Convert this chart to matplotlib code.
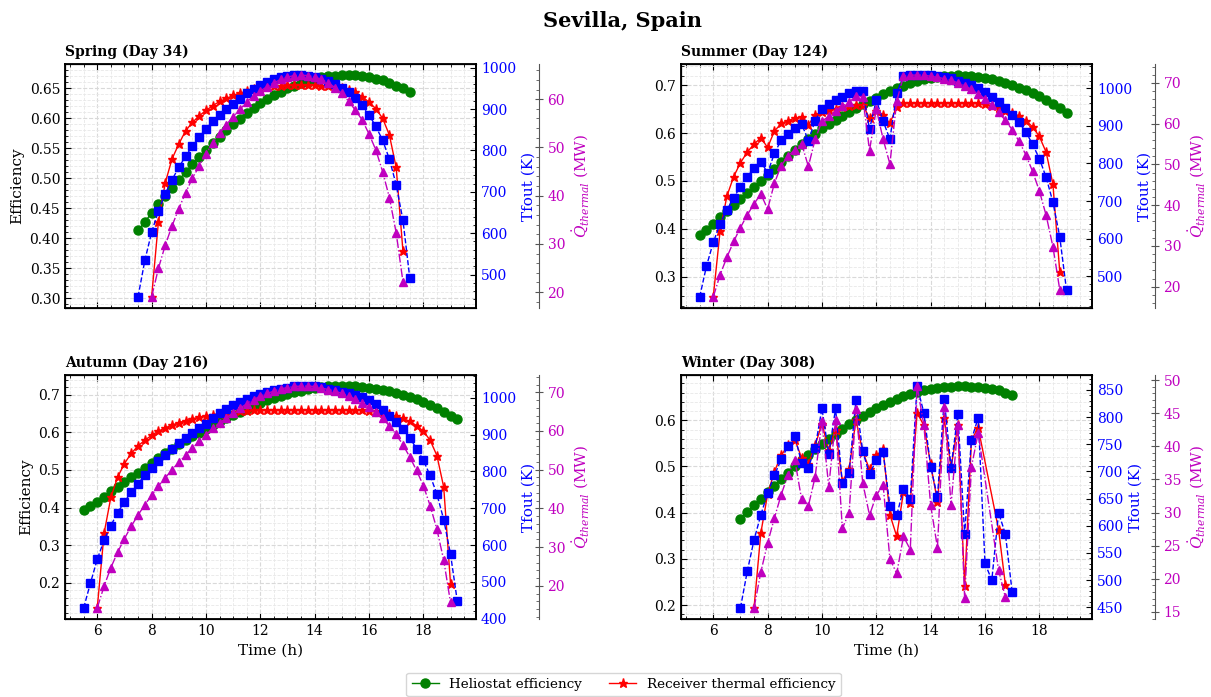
import numpy as np
import matplotlib
matplotlib.use('Agg')
import matplotlib.pyplot as plt
from matplotlib.ticker import AutoMinorLocator, MultipleLocator, FormatStrFormatter
from matplotlib.lines import Line2D

plt.rcParams['font.family'] = ['DejaVu Serif']
plt.rcParams['mathtext.fontset'] = 'dejavuserif'
plt.rcParams['font.size'] = 10

# ---------------- data ----------------
seasons = ["Spring (Day 34)", "Summer (Day 124)", "Autumn (Day 216)", "Winter (Day 308)"]

# Spring
spring_time = np.arange(7.5, 17.5 + 0.01, 0.25)
spring_helio = [0.413, 0.427, 0.442, 0.457, 0.471, 0.484, 0.497, 0.510, 0.523, 0.535,
                0.547, 0.558, 0.569, 0.580, 0.590, 0.599, 0.608, 0.617, 0.625, 0.632,
                0.638, 0.644, 0.650, 0.654, 0.658, 0.661, 0.665, 0.668, 0.670, 0.671,
                0.672, 0.672, 0.672, 0.671, 0.669, 0.666, 0.663, 0.659, 0.654, 0.650, 0.643]
spring_tfout = [446, 534, 602, 654, 695, 729, 759, 786, 810, 832, 852, 870, 886, 900, 913,
                925, 939, 949, 958, 966, 972, 977, 980, 982, 982, 980, 977, 973, 967, 961,
                952, 941, 926, 909, 886, 858, 825, 779, 717, 631, 492]
spring_rtime = np.arange(8.0, 17.25 + 0.01, 0.25)
spring_rec = [0.302, 0.427, 0.492, 0.532, 0.557, 0.579, 0.593, 0.604, 0.613, 0.621,
              0.628, 0.633, 0.638, 0.642, 0.645, 0.648, 0.650, 0.652, 0.653, 0.654,
              0.655, 0.655, 0.655, 0.655, 0.655, 0.654, 0.653, 0.652, 0.650, 0.647,
              0.643, 0.636, 0.627, 0.616, 0.600, 0.572, 0.518, 0.378]
spring_q = [19.0, 24.9, 29.7, 33.7, 37.3, 40.6, 43.6, 46.1, 48.7, 50.9,
            52.9, 54.7, 56.4, 57.9, 59.4, 60.7, 61.7, 62.6, 63.4, 64.1,
            64.6, 64.9, 65.0, 64.9, 64.6, 64.1, 63.4, 62.4, 61.2, 59.6,
            57.7, 55.7, 52.8, 49.5, 45.0, 39.6, 32.3, 22.1]

# Summer
summer_time = np.arange(5.5, 19.0 + 0.01, 0.25)
summer_helio = [0.387, 0.398, 0.411, 0.424, 0.437, 0.449, 0.462, 0.475, 0.487, 0.500,
                0.512, 0.526, 0.539, 0.552, 0.565, 0.577, 0.588, 0.599, 0.611, 0.619,
                0.627, 0.636, 0.645, 0.652, 0.660, 0.667, 0.674, 0.681, 0.688, 0.694,
                0.699, 0.704, 0.708, 0.712, 0.715, 0.717, 0.719, 0.720, 0.721, 0.720,
                0.719, 0.717, 0.715, 0.712, 0.709, 0.705, 0.700, 0.695, 0.690, 0.683,
                0.677, 0.669, 0.661, 0.652, 0.642]
summer_tfout = [445, 527, 590, 639, 676, 709, 738, 765, 787, 805,
                775, 827, 862, 878, 893, 905, 861, 914, 944, 957,
                968, 978, 987, 994, 994, 891, 969, 913, 864, 987,
                1033, 1034, 1035, 1035, 1034, 1032, 1029, 1026, 1020, 1015,
                1009, 1000, 989, 978, 964, 948, 930, 909, 884, 851,
                813, 763, 697, 605, 463]
summer_rtime = np.arange(6.0, 18.75 + 0.01, 0.25)
summer_rec = [0.258, 0.395, 0.468, 0.509, 0.538, 0.560, 0.577, 0.590, 0.570, 0.604,
              0.620, 0.626, 0.631, 0.634, 0.617, 0.638, 0.645, 0.648, 0.651, 0.654,
              0.656, 0.658, 0.659, 0.631, 0.647, 0.638, 0.620, 0.655,
              0.663, 0.663, 0.663, 0.663, 0.663, 0.663, 0.663, 0.663, 0.663, 0.663,
              0.662, 0.662, 0.660, 0.657, 0.652, 0.647, 0.642, 0.636, 0.626, 0.613,
              0.593, 0.560, 0.493, 0.311]
summer_q = [17.5, 22.9, 27.2, 31.1, 34.5, 37.6, 40.3, 42.8, 39.0, 45.4,
            49.7, 52.0, 53.6, 55.1, 49.5, 56.2, 60.6, 61.8, 63.2, 64.3,
            65.3, 66.7, 66.6, 53.4, 63.6, 56.2, 50.1, 65.5,
            71.6, 71.9, 71.9, 71.9, 71.6, 71.4, 71.0, 70.6, 70.0, 69.3,
            68.4, 67.3, 66.1, 64.6, 62.8, 60.8, 58.5, 55.7, 52.4, 48.3,
            43.5, 37.5, 29.8, 19.3]

# Autumn
autumn_time = np.arange(5.5, 19.25 + 0.01, 0.25)
autumn_helio = [0.393, 0.405, 0.416, 0.429, 0.443, 0.455, 0.468, 0.480, 0.493, 0.505,
                0.519, 0.531, 0.544, 0.555, 0.568, 0.579, 0.590, 0.599, 0.609, 0.619,
                0.629, 0.638, 0.647, 0.655, 0.663, 0.671, 0.678, 0.685, 0.691, 0.697,
                0.703, 0.707, 0.711, 0.715, 0.718, 0.720, 0.722, 0.723, 0.723, 0.723,
                0.722, 0.720, 0.719, 0.716, 0.712, 0.709, 0.704, 0.699, 0.694, 0.688,
                0.681, 0.673, 0.664, 0.654, 0.644, 0.635]
autumn_tfout = [429, 497, 561, 613, 653, 688, 717, 744, 767, 789,
                810, 829, 846, 862, 876, 891, 905, 918, 930, 946,
                959, 970, 980, 989, 997, 1005, 1011, 1016, 1021, 1024,
                1028, 1031, 1032, 1032, 1031, 1029, 1025, 1021, 1017, 1014,
                1009, 1003, 994, 982, 967, 952, 935, 914, 891, 862,
                830, 789, 738, 669, 575, 447]
autumn_rtime = np.arange(6.0, 19.0 + 0.01, 0.25)
autumn_rec = [0.133, 0.331, 0.427, 0.481, 0.517, 0.544, 0.564, 0.579, 0.592, 0.603,
              0.612, 0.619, 0.626, 0.631, 0.636, 0.640, 0.644, 0.647, 0.650, 0.652,
              0.654, 0.656, 0.658, 0.659,
              0.660, 0.660, 0.660, 0.660, 0.660, 0.660, 0.660, 0.660, 0.660, 0.660,
              0.660, 0.660, 0.660, 0.660, 0.660,
              0.659, 0.658, 0.656, 0.652, 0.648, 0.643, 0.637, 0.629, 0.618, 0.603,
              0.579, 0.538, 0.454, 0.197]
autumn_q = [14.3, 19.9, 24.7, 28.7, 32.2, 35.4, 38.3, 40.9, 43.4, 45.8,
            47.9, 50.0, 51.9, 53.8, 55.6, 57.3, 59.0, 60.7, 62.1, 63.4,
            64.7, 65.9, 67.0, 68.1, 69.0, 69.7, 70.3, 70.9, 71.2, 71.5,
            71.6, 71.6, 71.5, 71.1, 70.7, 70.3, 69.7, 69.0, 68.2, 67.2,
            66.2, 64.9, 63.3, 61.3, 59.1, 56.4, 53.3, 49.8, 45.9, 40.7,
            34.6, 26.6, 15.7]

# Winter
winter_time = np.arange(7.0, 17.0 + 0.01, 0.25)
winter_helio = [0.387, 0.401, 0.416, 0.430, 0.444, 0.458, 0.473, 0.487, 0.500, 0.513,
                0.525, 0.537, 0.548, 0.560, 0.571, 0.581, 0.591, 0.600, 0.609, 0.618,
                0.626, 0.633, 0.639, 0.646, 0.652, 0.657, 0.661, 0.665, 0.667, 0.670,
                0.672, 0.673, 0.674, 0.674, 0.673, 0.672, 0.670, 0.667, 0.665, 0.660, 0.655]
winter_tfout = [449, 516, 574, 620, 660, 693, 722, 747, 765, 716,
                707, 744, 816, 732, 816, 678, 698, 831, 737, 695,
                721, 735, 637, 619, 668, 650, 857, 808, 709, 653,
                833, 707, 806, 585, 758, 799, 531, 500, 624, 585, 478]
winter_rtime = [7.5, 7.75, 8.0, 8.25, 8.5, 8.75, 9.0, 9.25, 9.5, 9.75,
                10.0, 10.25, 10.5, 10.75, 11.0, 11.25, 11.5, 11.75, 12.0, 12.25,
                12.5, 12.75, 13.0, 13.25, 13.5, 13.75, 14.0, 14.25, 14.5, 14.75,
                15.0, 15.25, 15.5, 15.75, 16.5, 16.75]
winter_rec = [0.194, 0.356, 0.440, 0.489, 0.524, 0.546, 0.558, 0.519, 0.505, 0.546,
              0.593, 0.535, 0.580, 0.467, 0.495, 0.600, 0.532, 0.494, 0.524, 0.537,
              0.396, 0.349, 0.445, 0.422, 0.616, 0.589, 0.505, 0.424, 0.605, 0.497,
              0.589, 0.241, 0.557, 0.584, 0.363, 0.244]
winter_q = [15.6, 21.0, 25.4, 29.2, 32.7, 35.7, 38.0, 32.0, 31.0, 35.4,
            43.9, 33.9, 44.0, 27.6, 30.0, 45.7, 34.5, 29.6, 32.6, 34.2,
            23.0, 20.8, 26.4, 24.4, 49.1, 43.2, 31.1, 24.7, 46.0, 31.1,
            43.2, 17.1, 36.9, 42.0, 21.3, 17.2]

panels = [
    (spring_time, spring_helio, spring_tfout, spring_rtime, spring_rec, spring_q),
    (summer_time, summer_helio, summer_tfout, summer_rtime, summer_rec, summer_q),
    (autumn_time, autumn_helio, autumn_tfout, autumn_rtime, autumn_rec, autumn_q),
    (winter_time, winter_helio, winter_tfout, winter_rtime, winter_rec, winter_q),
]

# tick steps per panel (efficiency, Tfout, Q)
eff_steps = [0.05, 0.1, 0.1, 0.1]
eff_fmts = ['%.2f', '%.1f', '%.1f', '%.1f']
tf_steps = [100, 100, 100, 50]
q_steps = [10, 10, 10, 5]

# ---------------- figure ----------------
W, H = 1211, 697
fig = plt.figure(figsize=(W / 100, H / 100), dpi=100)

lefts = [65, 681, 65, 681]
tops = [64, 64, 375, 375]
aw, ah = 411, 244

first_ax = None
for i, (season, data) in enumerate(zip(seasons, panels)):
    t, helio, tfout, rt, rec, q = data
    rect = [lefts[i] / W, 1 - (tops[i] + ah) / H, aw / W, ah / H]
    if first_ax is None:
        ax = fig.add_axes(rect)
        first_ax = ax
    else:
        ax = fig.add_axes(rect, sharex=first_ax)

    ax.plot(t, helio, '-o', color='g', ms=6.5, lw=1.0)
    ax.plot(rt, rec, '-*', color='r', ms=6.5, lw=1.0)

    ax2 = ax.twinx()
    ax2.plot(t, tfout, '--s', color='b', ms=6, lw=1.0)
    ax3 = ax.twinx()
    ax3.spines['right'].set_position(('outward', 45))
    ax3.spines['right'].set_color('#555555')
    ax3.plot(rt, q, '-.^', color='m', ms=6, lw=1.0)

    ax.set_title(season, loc='left', fontweight='bold', fontsize=10)

    ax.yaxis.set_major_locator(MultipleLocator(eff_steps[i]))
    ax.yaxis.set_major_formatter(FormatStrFormatter(eff_fmts[i]))
    ax2.yaxis.set_major_locator(MultipleLocator(tf_steps[i]))
    ax3.yaxis.set_major_locator(MultipleLocator(q_steps[i]))
    for a in (ax, ax2, ax3):
        a.yaxis.set_minor_locator(AutoMinorLocator())
    ax.xaxis.set_minor_locator(AutoMinorLocator())
    ax.tick_params(which='both', direction='in', top=True, labelsize=10)
    ax.tick_params(which='major', length=4)
    ax.tick_params(which='minor', length=2)
    ax2.tick_params(which='both', direction='in', colors='k', labelcolor='b', labelsize=10)
    ax2.tick_params(which='major', length=4)
    ax2.tick_params(which='minor', length=2)
    ax3.tick_params(which='major', direction='inout', length=6, labelcolor='m',
                    labelsize=10, color='#555555')
    ax3.tick_params(which='minor', direction='in', length=2, color='#555555')
    ax.grid(which='major', ls='--', color='#d9d9d9', lw=0.8)
    ax.grid(which='minor', ls='--', color='#e8e8e8', lw=0.6)
    for sp in ax.spines.values():
        sp.set_linewidth(1.3)
    ax2.spines['right'].set_linewidth(1.3)

    ax2.set_ylabel('Tfout (K)', color='b', fontsize=11)
    ax3.set_ylabel(r'$\dot{Q}_{thermal}$ (MW)', color='m', fontsize=11)
    if i in (0, 2):
        ax.set_ylabel('Efficiency', fontsize=11)
    if i >= 2:
        ax.set_xlabel('Time (h)', fontsize=11)
    else:
        ax.tick_params(labelbottom=False)

fig.text(0.514, 1 - 21 / H, 'Sevilla, Spain', ha='center', va='center',
         fontsize=15, fontweight='bold')

handles = [Line2D([], [], color='g', marker='o', lw=1.0, ms=6.5),
           Line2D([], [], color='r', marker='*', lw=1.0, ms=6.5)]
fig.legend(handles, ['Heliostat efficiency', 'Receiver thermal efficiency'],
           loc='upper center', bbox_to_anchor=(0.515, 1 - 670 / H), ncol=2,
           fontsize=9.7, frameon=True, borderaxespad=0.2)

fig.savefig('out.png', dpi=100)
